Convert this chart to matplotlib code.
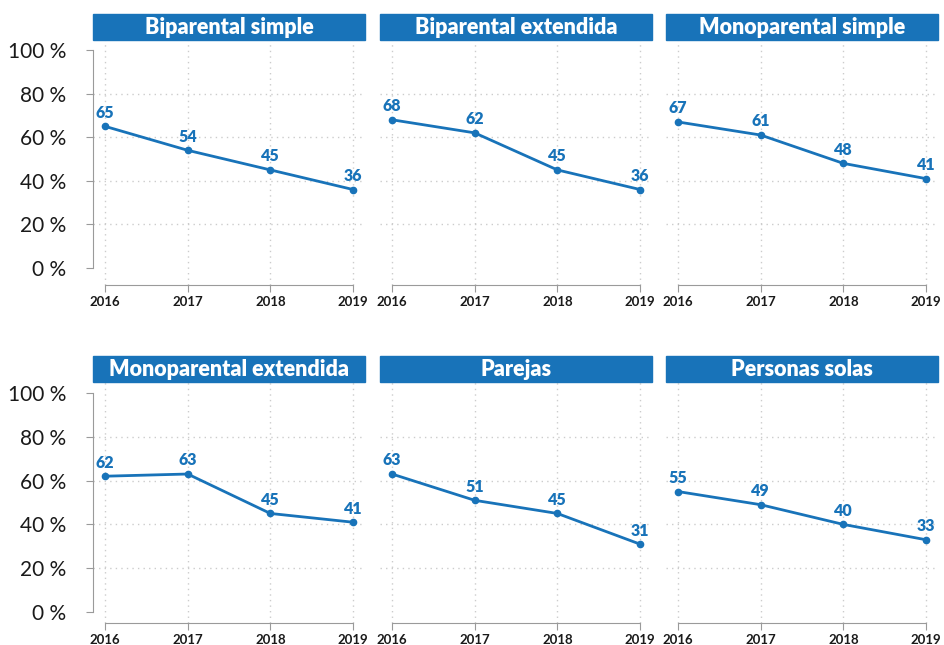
import matplotlib.pyplot as plt
from matplotlib.patches import Rectangle

# data
years = [2016, 2017, 2018, 2019]
titles = ['Biparental simple', 'Biparental extendida', 'Monoparental simple',
          'Monoparental extendida', 'Parejas', 'Personas solas']
biparental_simple = [65, 54, 45, 36]
biparental_extendida = [68, 62, 45, 36]
monoparental_simple = [67, 61, 48, 41]
monoparental_extendida = [62, 63, 45, 41]
parejas = [63, 51, 45, 31]
personas_solas = [55, 49, 40, 33]
series = [biparental_simple, biparental_extendida, monoparental_simple,
          monoparental_extendida, parejas, personas_solas]
yticks = [0, 20, 40, 60, 80, 100]
ytick_labels = ['0 %', '20 %', '40 %', '60 %', '80 %', '100 %']

blue = '#1873b9'
gray = '#9a9a9a'
plt.rcParams['font.family'] = ['Lato', 'DejaVu Sans']

W, H = 944, 645
fig = plt.figure(figsize=(W / 100, H / 100), dpi=100)

lefts = [93, 380, 666]
width = 272
# (axes top px, axes bottom px, ylim) for each row
rows = [(40, 285, (-7.8, 104.6)), (382, 623, (-5.0, 105.0))]
box_h = 26

for i, (title, vals) in enumerate(zip(titles, series)):
    r, c = divmod(i, 3)
    top, bot, ylim = rows[r]
    ax = fig.add_axes([lefts[c] / W, 1 - bot / H, width / W, (bot - top) / H])
    ax.set_xlim(2015.855, 2019.145)
    ax.set_ylim(*ylim)

    # grid
    for y in [20, 40, 60, 80]:
        ax.axhline(y, color='#cccccc', lw=1, ls=(0, (1, 3)), zorder=0)
    for x in years:
        ax.axvline(x, color='#cccccc', lw=1, ls=(0, (1, 3)), zorder=0)

    ax.plot(years, vals, color=blue, lw=2, marker='o', ms=4.5, zorder=3)
    for x, v in zip(years, vals):
        ax.annotate(str(v), (x, v), xytext=(0, 4), textcoords='offset points',
                    ha='center', va='bottom', color=blue, fontsize=11.5,
                    fontweight='heavy')

    for s in ['top', 'right']:
        ax.spines[s].set_visible(False)
    ax.spines['bottom'].set_color(gray)
    ax.spines['bottom'].set_bounds(2016, 2019)
    ax.set_xticks(years)
    ax.set_xticklabels([str(y) for y in years], fontsize=9.5, fontweight='bold')
    ax.tick_params(axis='x', colors=gray, labelcolor='#1a1a1a', length=5, pad=3)

    if c == 0:
        ax.spines['left'].set_color(gray)
        ax.spines['left'].set_bounds(0, 100)
        ax.set_yticks(yticks)
        ax.set_yticklabels(ytick_labels, fontsize=15)
        ax.tick_params(axis='y', colors=gray, labelcolor='#1a1a1a', length=5, pad=14)
    else:
        ax.spines['left'].set_visible(False)
        ax.set_yticks([])

    # title box
    hfrac = box_h / (bot - top)
    ax.add_patch(Rectangle((0, 1), 1, hfrac, transform=ax.transAxes,
                           color=blue, clip_on=False, zorder=5))
    ax.text(0.5, 1 + hfrac / 2, title, transform=ax.transAxes, ha='center',
            va='center', color='white', fontsize=15.5, fontweight='heavy', zorder=6)

fig.savefig('out.png', dpi=100)
